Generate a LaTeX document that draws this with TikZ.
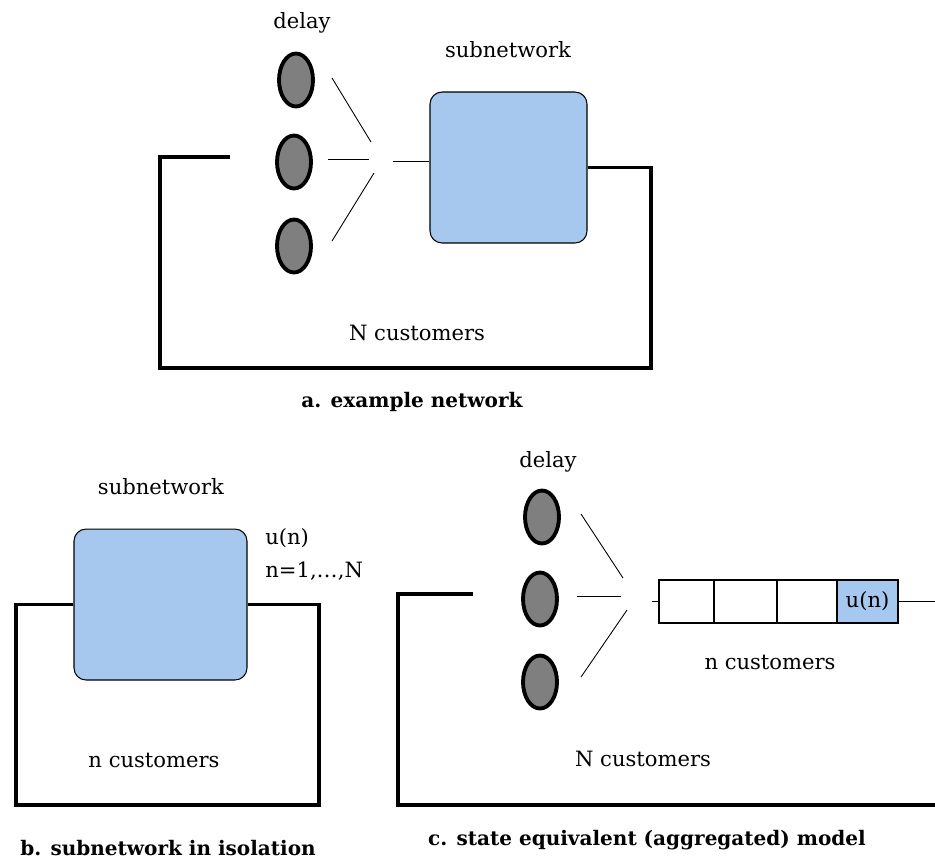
\documentclass[tikz,border=0pt]{standalone}
\usepackage{fontspec}
\setmainfont{DejaVu Serif}
\usepackage{xcolor}
\usepackage{tikz}
\usetikzlibrary{shapes.geometric}

\definecolor{subblue}{HTML}{A6C8EE}
\definecolor{delaygray}{HTML}{7F7F7F}

\tikzset{
  delaynode/.style={ellipse, draw, line width=2.2pt, fill=delaygray, minimum width=0.68cm, minimum height=1.06cm, inner sep=0pt},
  subbox/.style={draw, line width=0.6pt, fill=subblue, rounded corners=0.24cm, inner sep=0pt, minimum height=3.02cm},
  qcell/.style={draw, line width=1.6pt, inner sep=0pt, minimum height=0.86cm},
  loopline/.style={line width=1.8pt},
  fanline/.style={line width=0.5pt},
  txt/.style={font=\fontsize{12}{14}\selectfont, inner sep=0pt},
  caption/.style={font=\bfseries\fontsize{11.4}{14}\selectfont, inner sep=0pt}
}

\begin{document}
\begin{tikzpicture}[x=0.02cm, y=-0.02cm]

\path[use as bounding box, clip] (0,0) rectangle (935,867);

% a. example network
\begin{scope}
\node[txt] (adelay) at (302,23) {delay};
\node[delaynode] (da1) at (296,80) {};
\node[delaynode] (da2) at (294,162) {};
\node[delaynode] (da3) at (294,246) {};

\node[subbox, minimum width=3.14cm] (boxa) at (508.5,167.5) {};
\node[txt] (asub) at (508,50) {subnetwork};

\coordinate (af1s) at (332,78);  \coordinate (af1e) at (371,142);
\coordinate (af2s) at (328,159); \coordinate (af2e) at (369,159);
\coordinate (af3s) at (374,173); \coordinate (af3e) at (332,241);
\coordinate (aout) at (393,161);
\coordinate (ain) at (230,157);

\draw[fanline] (af1s)--(af1e);
\draw[fanline] (af2s)--(af2e);
\draw[fanline] (af3s)--(af3e);
\draw[fanline] (aout)--(aout -| boxa.west);

\draw[loopline] (boxa.east) -| (651,368) -| (160,157) -- (ain);

\node[txt] (acust) at (417,333) {N customers};
\node[caption] (acap) at (412,402) {a. example network};
\end{scope}

% b. subnetwork in isolation
\begin{scope}
\node[subbox, minimum width=3.46cm] (boxb) at (160.5,604.5) {};
\node[txt] (bsub) at (161,487) {subnetwork};
\node[txt, anchor=west] (bu) at (265,538) {u(n)};
\node[txt, anchor=west] (brange) at (265,571) {n=1,\dots,N};

\draw[loopline] (boxb.west) -| (16,805) -| (319,604.5) -- (boxb.east);

\node[txt] (bcust) at (154,760) {n customers};
\node[caption] (bcap) at (168,848) {b. subnetwork in isolation};
\end{scope}

% c. state equivalent model
\begin{scope}
\node[txt] (cdelay) at (548,462) {delay};
\node[delaynode] (dc1) at (542,517) {};
\node[delaynode] (dc2) at (540,599) {};
\node[delaynode] (dc3) at (540,682) {};

\coordinate (cf1s) at (581,514); \coordinate (cf1e) at (623,578);
\coordinate (cf2s) at (577,596); \coordinate (cf2e) at (621,596);
\coordinate (cf3s) at (627,610); \coordinate (cf3e) at (581,677);
\coordinate (cin) at (473,594);
\coordinate (ctick) at (652,601.5);
\coordinate (cout) at (980,601.5);

\node[qcell, minimum width=1.10cm] (q1) at (686.5,601.5) {};
\node[qcell, minimum width=1.26cm] (q2) at (745.5,601.5) {};
\node[qcell, minimum width=1.20cm] (q3) at (807,601.5) {};
\node[qcell, minimum width=1.22cm, fill=subblue] (q4) at (867.5,601.5) {};
\node[txt] (qu) at (q4) {u(n)};

\draw[fanline] (cf1s)--(cf1e);
\draw[fanline] (cf2s)--(cf2e);
\draw[fanline] (cf3s)--(cf3e);
\draw[fanline] (ctick)--(q1.west);
\draw[fanline] (q4.east)--(cout);

\draw[loopline] (cout) |- (398,805) |- (cin);

\node[txt] (cqcust) at (770,662) {n customers};
\node[txt] (ccust) at (643,759) {N customers};
\node[caption] (ccap) at (647,840) {c. state equivalent (aggregated) model};
\end{scope}

\end{tikzpicture}
\end{document}
